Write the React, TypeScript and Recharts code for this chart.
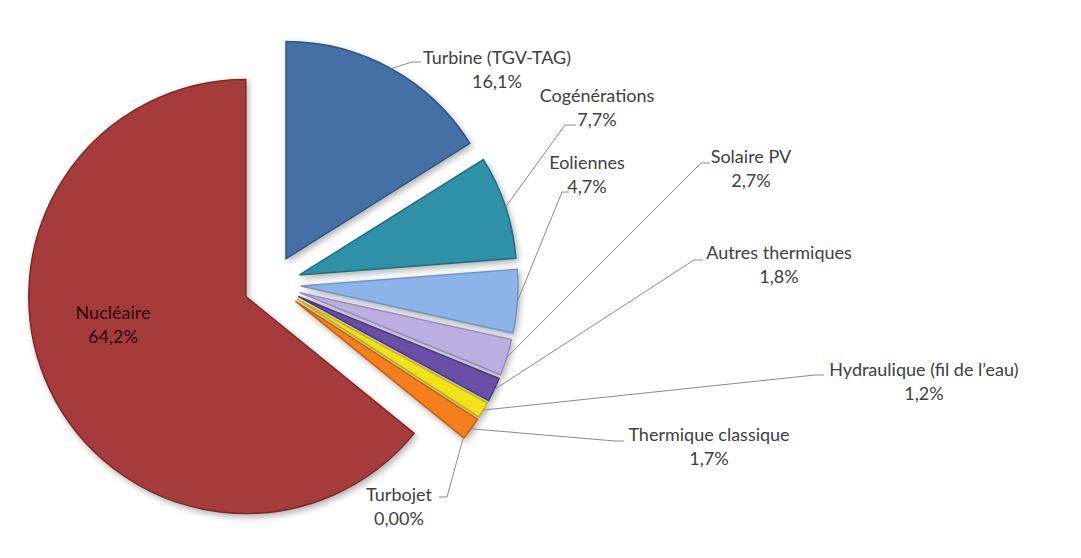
import { PieChart, Pie, Cell } from 'recharts';

const sources = [
  'Turbine (TGV-TAG)',
  'Cogénérations',
  'Eoliennes',
  'Solaire PV',
  'Autres thermiques',
  'Hydraulique (fil de l’eau)',
  'Thermique classique',
  'Turbojet',
  'Nucléaire',
];
const shares = [16.1, 7.7, 4.7, 2.7, 1.8, 1.2, 1.7, 0, 64.2];
const shareLabels = ['16,1%', '7,7%', '4,7%', '2,7%', '1,8%', '1,2%', '1,7%', '0,00%', '64,2%'];

const colors = ['#4570a6', '#2f91a7', '#8db4e9', '#bcaee0', '#6a4fa6', '#f2e21a', '#f57f1c', '#c9c9c9', '#a53c3b'];
const edges = ['#2f5384', '#1f6f82', '#6f95c8', '#9a8cc0', '#4d3785', '#c8b800', '#c9600c', '#999999', '#7d2827'];

const data = sources.map((name, i) => ({ name, value: shares[i] }));

// layout of the pie and its callouts
const CX = 272;
const CY = 284;
const R = 217;
const EXPLODE = 29;

// text centre x, first line centre y, elbow of leader, end of leader
const callouts = [
  { x: 497, y: 58, ex: 412, ey: 62, tx: 421 },
  { x: 597, y: 96, ex: 565, ey: 125, tx: 576 },
  { x: 587, y: 163, ex: 562, ey: 192, tx: 569 },
  { x: 751, y: 157, ex: 701, ey: 163, tx: 710 },
  { x: 779, y: 253, ex: 694, ey: 260, tx: 703 },
  { x: 924, y: 370, ex: 815, ey: 375, tx: 824 },
  { x: 709, y: 435, ex: 615, ey: 441, tx: 624 },
  { x: 399, y: 495, ex: 447, ey: 497, tx: 439 },
  { x: 113, y: 313, ex: 0, ey: 0, tx: 0 },
];

const total = shares.reduce((a, b) => a + b, 0);
const midAngles = shares.map((v, i) => {
  const before = shares.slice(0, i).reduce((a, b) => a + b, 0);
  return ((before + v / 2) / total) * 360;
});

const FONT = 'Lato, "Open Sans", sans-serif';
const FONT_SIZE = 18;

function makeLabel(idx: number) {
  return (props: any) => {
    if (props.index !== idx) return null;
    const { cx, cy, midAngle, outerRadius } = props;
    const rad = (-midAngle * Math.PI) / 180;
    const sx = cx + outerRadius * Math.cos(rad);
    const sy = cy + outerRadius * Math.sin(rad);
    const c = callouts[idx];
    const inside = idx === sources.length - 1;
    const color = inside ? '#2a0c0c' : '#404040';
    return (
      <g>
        {!inside && (
          <polyline
            points={`${sx},${sy} ${c.ex},${c.ey} ${c.tx},${c.ey}`}
            fill="none"
            stroke="#8a8a8a"
            strokeWidth={1}
          />
        )}
        <text x={c.x} y={c.y + 6} textAnchor="middle" fontFamily={FONT} fontSize={FONT_SIZE} fill={color}>
          {sources[idx]}
        </text>
        <text x={c.x} y={c.y + 30} textAnchor="middle" fontFamily={FONT} fontSize={FONT_SIZE} fill={color}>
          {shareLabels[idx]}
        </text>
      </g>
    );
  };
}

export default function App() {
  return (
    <div style={{ position: 'absolute', left: 0, top: 0, width: 1081, height: 558, background: '#fff' }}>
      <PieChart width={1081} height={558} margin={{ top: 0, right: 0, bottom: 0, left: 0 }}>
        {data.map((_, idx) => {
          const th = (midAngles[idx] * Math.PI) / 180;
          return (
            <Pie
              key={sources[idx]}
              data={data}
              dataKey="value"
              nameKey="name"
              cx={CX + EXPLODE * Math.sin(th)}
              cy={CY - EXPLODE * Math.cos(th)}
              outerRadius={R}
              startAngle={90}
              endAngle={-270}
              isAnimationActive={false}
              labelLine={false}
              label={makeLabel(idx)}
            >
              {data.map((d, j) => (
                <Cell
                  key={d.name}
                  fill={j === idx ? colors[j] : 'none'}
                  stroke={j === idx ? edges[j] : 'none'}
                  strokeWidth={1.5}
                  style={j === idx ? { filter: 'drop-shadow(2px 3px 3px rgba(0,0,0,0.3))' } : undefined}
                />
              ))}
            </Pie>
          );
        })}
      </PieChart>
    </div>
  );
}
